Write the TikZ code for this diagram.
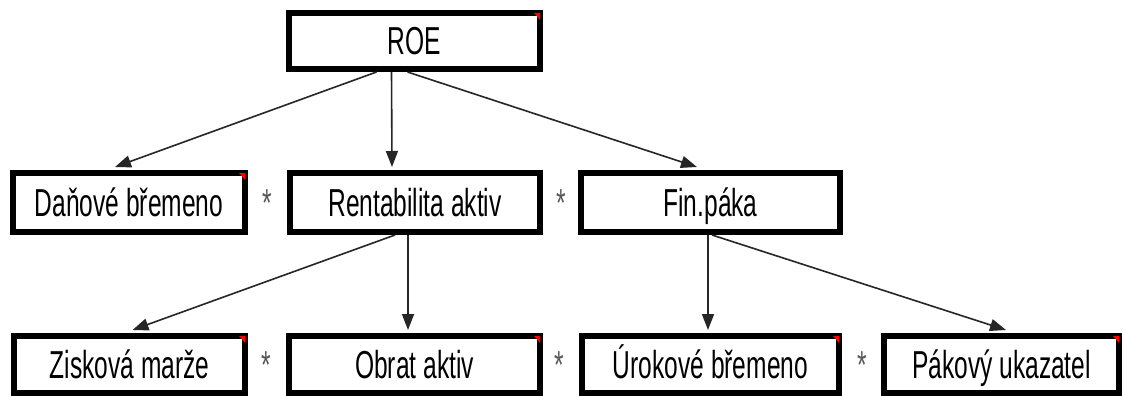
\documentclass[tikz,border=0pt]{standalone}
\usepackage{fontspec}
\newfontfamily\boxfont[FakeStretch=0.63]{Liberation Sans}
\usetikzlibrary{arrows.meta}
\begin{document}
\begin{tikzpicture}[x=1pt,y=-1pt,
  txt/.style={inner sep=0pt, text height=30pt, text depth=2pt, font={\boxfont\fontsize{39pt}{40pt}\selectfont}},
  box/.style={txt, draw=black, line width=6pt, fill=white},
  star/.style={txt, text=black!65},
  arr/.style={draw=black!85, line width=1.6pt, -{Triangle[width=12pt,length=16pt]}},
  corner/.style={fill=red}
]
\fill[white] (0,0) rectangle (1125,396);
\useasboundingbox (0,0) rectangle (1125,396);

% top
\node[box, minimum width=251pt, minimum height=56pt] (roe) at (414.5,41) {ROE};
% middle row
\node[box, minimum width=232pt, minimum height=59pt] (dan) at (129,202.5) {Daňové břemeno};
\node[box, minimum width=250pt, minimum height=59pt] (rent) at (415,202.5) {Rentabilita aktiv};
\node[box, minimum width=259pt, minimum height=59pt] (fin) at (710.5,202.5) {Fin.páka};
\node[star] (s1) at (267,202.5) {*};
\node[star] (s2) at (561,202.5) {*};
% bottom row
\node[box, minimum width=231pt, minimum height=57pt] (zisk) at (129.5,364.5) {Zisková marže};
\node[box, minimum width=251pt, minimum height=57pt] (obrat) at (414.5,364.5) {Obrat aktiv};
\node[box, minimum width=257pt, minimum height=57pt] (urok) at (710.5,364.5) {Úrokové břemeno};
\node[box, minimum width=235pt, minimum height=57pt] (pak) at (1001.5,364.5) {Pákový ukazatel};
\node[star] (s3) at (266,364.5) {*};
\node[star] (s4) at (559,364.5) {*};
\node[star] (s5) at (862,364.5) {*};

% red corners
\foreach \n in {roe,dan,zisk,obrat,urok,pak}{
  \fill[corner] ([xshift=-3pt,yshift=-3pt]\n.north east) -- ++(-6,0) -- ++(6,7) -- cycle;
}

% connectors
\draw[arr] ([xshift=-38pt]roe.south) -- ([xshift=-14pt,yshift=3pt]dan.north);
\draw[arr] ([xshift=-23pt]roe.south) -- ([xshift=-23pt,yshift=3pt]rent.north);
\draw[arr] ([xshift=-7pt]roe.south) -- ([xshift=-13.5pt,yshift=3pt]fin.north);
\draw[arr] ([xshift=-20pt]rent.south) -- ([xshift=3pt,yshift=3pt]zisk.north);
\draw[arr] ([xshift=-7pt]rent.south) -- ([xshift=-6.5pt,yshift=3pt]obrat.north);
\draw[arr] ([xshift=-2.5pt]fin.south) -- ([xshift=-2.5pt,yshift=3pt]urok.north);
\draw[arr] ([xshift=1.5pt]fin.south) -- ([xshift=4.5pt,yshift=3pt]pak.north);
\end{tikzpicture}
\end{document}
